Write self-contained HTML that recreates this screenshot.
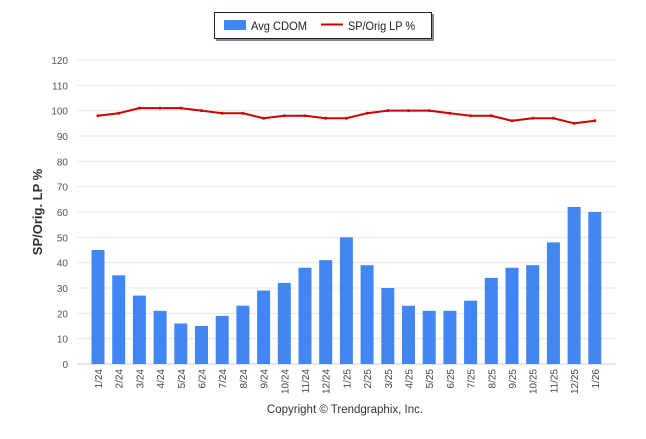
<!DOCTYPE html>
<html><head><meta charset="utf-8"><style>
body{margin:0;background:#fff;font-family:"Liberation Sans",sans-serif}
svg text{font-family:"Liberation Sans",sans-serif}
</style></head><body>
<svg id="c" width="646" height="434">
<g>
<rect x="216" y="14" width="218" height="27" fill="#888"/>
<rect x="214.5" y="12.5" width="217" height="26" fill="#fff" stroke="#1a1f3c"/>
<rect x="224" y="20" width="22" height="10" fill="#4286f4"/>
<text x="251" y="30" font-size="12" fill="#222" textLength="56" lengthAdjust="spacingAndGlyphs">Avg CDOM</text>
<line x1="321" y1="24.5" x2="343" y2="24.5" stroke="#cc0000" stroke-width="2"/>
<text x="348" y="30" font-size="12" fill="#222" textLength="67" lengthAdjust="spacingAndGlyphs">SP/Orig LP %</text>
</g>
<text transform="translate(42,212) rotate(-90)" text-anchor="middle" font-size="13" font-weight="bold" fill="#333">SP/Orig. LP %</text>
<text x="345" y="413" text-anchor="middle" font-size="11.5" fill="#333">Copyright © Trendgraphix, Inc.</text>
<g id="grid"></g><g id="bars"></g><g id="line"></g><g id="xl"></g>
</svg>
<script>
const categories=["1/24","2/24","3/24","4/24","5/24","6/24","7/24","8/24","9/24","10/24","11/24","12/24","1/25","2/25","3/25","4/25","5/25","6/25","7/25","8/25","9/25","10/25","11/25","12/25","1/26"];
const cdomValues=[45,35,27,21,16,15,19,23,29,32,38,41,50,39,30,23,21,21,25,34,38,39,48,62,60];
const lpValues=[98,99,101,101,101,100,99,99,97,98,98,97,97,99,100,100,100,99,98,98,96,97,97,95,96];
const yTicks=[0,10,20,30,40,50,60,70,80,90,100,110,120];
const NS="http://www.w3.org/2000/svg";
const y=v=>364-v*(304/120);
const x=i=>98+i*20.7;
function mk(t,a,p){const e=document.createElementNS(NS,t);for(const k in a)e.setAttribute(k,a[k]);p.appendChild(e);return e;}
const g=document.getElementById('grid');
yTicks.forEach(v=>{
 const l=mk('line',{x1:77,x2:616,y1:y(v),y2:y(v),stroke:v===0?'#ccc':'#e8e8e8'},g);
 
 
 const t=mk('text',{x:68,y:y(v)+4,'text-anchor':'end','font-size':'10',fill:'#555'},g);
 t.textContent=v;
 
 
});
const b=document.getElementById('bars'),xl=document.getElementById('xl');
cdomValues.forEach((v,i)=>{
 const r=mk('rect',{x:x(i)-6.5,y:y(v),width:13,height:364-y(v),fill:'#4286f4'},b);
 
 
});
categories.forEach((c,i)=>{
 const t=mk('text',{transform:`translate(${x(i)+4},369) rotate(-90)`,'text-anchor':'end','font-size':'10',fill:'#444'},xl);
 t.textContent=c;
 
 
});
const ln=document.getElementById('line');
const p=mk('polyline',{points:lpValues.map((v,i)=>x(i)+','+y(v)).join(' '),fill:'none',stroke:'#cc0000','stroke-width':2,'stroke-linejoin':'round'},ln);


lpValues.forEach((v,i)=>{
 const c=mk('circle',{cx:x(i),cy:y(v),r:1.5,fill:'#cc0000'},ln);
 
 
});
</script>
</body></html>
